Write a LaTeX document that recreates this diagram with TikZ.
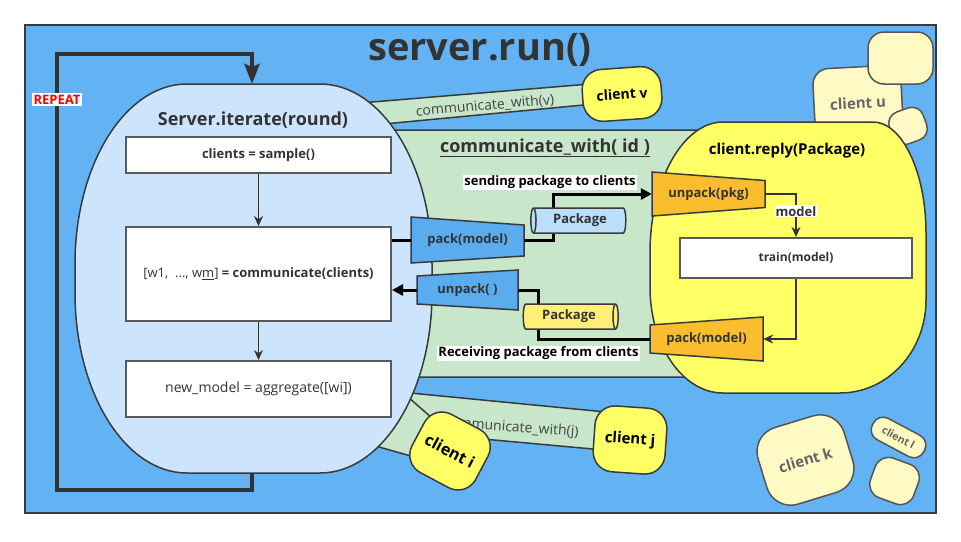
\documentclass[tikz,border=0pt]{standalone}
\usepackage{fontspec}
\setmainfont{Open Sans}
\usetikzlibrary{arrows.meta, positioning, shapes.geometric, calc}

\definecolor{skyfill}{RGB}{99,179,244}
\definecolor{srvfill}{RGB}{204,229,252}
\definecolor{zonefill}{RGB}{200,230,201}
\definecolor{cltfill}{RGB}{255,255,102}
\definecolor{palefill}{RGB}{255,249,196}
\definecolor{orangefill}{RGB}{249,189,45}
\definecolor{packfill}{RGB}{90,172,238}
\definecolor{pkgblue}{RGB}{187,222,251}
\definecolor{pkgyellow}{RGB}{255,238,119}
\definecolor{ink}{RGB}{51,51,51}
\definecolor{bandink}{RGB}{68,68,68}
\definecolor{edge}{RGB}{58,58,58}
\definecolor{boxedge}{RGB}{90,90,90}
\definecolor{ghostedge}{RGB}{85,85,85}
\definecolor{fadedink}{RGB}{102,102,102}

\begin{document}
\begin{tikzpicture}[x=1pt, y=-1pt, >=Stealth,
        step_block/.style={rectangle, draw=boxedge, line width=2pt, fill=white, text=ink, minimum width=265pt, inner sep=0pt, font=\bfseries\fontsize{13}{15}\selectfont},
        tag_block/.style={inner sep=0pt, text=ink, font=\bfseries\fontsize{13}{15}\selectfont},
        note_block/.style={fill=white, text=black, inner sep=1pt, font=\bfseries\fontsize{13}{15}\selectfont},
        pkg_block/.style={cylinder, draw=edge, line width=1.5pt, aspect=0.4, minimum width=25pt, minimum height=95pt, inner sep=0pt, text=ink, font=\bfseries\fontsize{13}{15}\selectfont, cylinder uses custom fill, cylinder body fill=#1, cylinder end fill=#1},
        client_block/.style={rectangle, draw=edge, line width=1.5pt, fill=cltfill, rounded corners=20pt, text=black, font=\bfseries\fontsize{15}{17}\selectfont},
        ghost_block/.style={rectangle, draw=ghostedge, line width=1.5pt, fill=palefill, rounded corners=16pt, text=fadedink, font=\bfseries\fontsize{15}{17}\selectfont},
        band_shape/.style={draw=edge, line width=1.5pt, fill=zonefill},
        funnel_shape/.style={draw=edge, line width=1.5pt, fill=#1},
        band_text/.style={text=bandink, font=\fontsize{14}{16}\selectfont},
        wire/.style={draw=black, line width=3pt},
        wire_tip/.style={-{Triangle[length=11pt, width=11pt]}},
        flow/.style={draw=ink, line width=1.5pt, -{Stealth[length=10pt, width=9pt]}}]

        \useasboundingbox (0,0) rectangle (961,541);

        % Frame and title
        \draw[draw=edge, line width=2pt, fill=skyfill] (25,25) rectangle (936,513);
        \node[text=ink, font=\bfseries\fontsize{38}{40}\selectfont] (title) at (480,50) {server.run()};

        % Green links (behind the server and the clients)
        \draw[band_shape] (360,103) -- (590,84) -- (594,104) -- (384,124) -- cycle;
        \node[band_text, rotate=5] (link_v) at (485,106) {communicate\_with(v)};
        \draw[band_shape] (380,130) -- (712,130) -- (702,377) -- (380,377) -- cycle;
        \draw[band_shape] (400,392) -- (606,412) -- (604,450) -- (450,436) -- cycle;
        \node[band_text, rotate=-4] (link_j) at (511,428) {communicate\_with(j)};
        \draw[band_shape] (400,390) -- (440,425) -- (425,460) -- (372,445) -- cycle;

        % Server
        \draw[draw=edge, line width=1.5pt, fill=srvfill] (187,84) -- (320,84) .. controls (382,84) and (432,165) .. (432,264) -- (432,293) .. controls (432,392) and (382,473) .. (320,473) -- (187,473) .. controls (125,473) and (75,392) .. (75,293) -- (75,264) .. controls (75,165) and (125,84) .. (187,84) -- cycle;
        \coordinate (srv_top) at (252,84);
        \coordinate (srv_bot) at (252,473);
        \node[text=ink, font=\bfseries\fontsize{18}{21}\selectfont] (srv_title) at (253,120) {Server.iterate(round)};
        \node[step_block, minimum height=36pt] (sample) at (258.5,155) {clients = sample()};
        \node[step_block, minimum height=94pt, below=52pt of sample] (comm) {{\mdseries [w1,\ \ ..., w\underline{m}]}\ = communicate(clients)};
        \node[step_block, minimum height=56pt, below=38pt of comm, font=\mdseries\fontsize{14}{16}\selectfont] (aggr) {new\_model = aggregate([wi])};
        \path[flow] (sample.south) -- (comm.north);
        \path[flow] (comm.south) -- (aggr.north);

        % Repeat loop
        \coordinate (loop_low) at (57,490);
        \coordinate (loop_high) at (57,54);
        \draw[draw=ink, line width=4.5pt, -{Stealth[length=20pt, width=15pt, inset=3pt]}] (srv_bot) |- (loop_low) -- (loop_high) -| (srv_top);
        \node[fill=white, text=red, inner sep=1.5pt, font=\bfseries\fontsize{13}{15}\selectfont] (repeat_tag) at (57,99.5) {REPEAT};

        % Client u (behind the client)
        \node[ghost_block, minimum width=88pt, minimum height=72pt, rotate=3] (client_u) at (858,103) {client u};
        \node[ghost_block, minimum width=65pt, minimum height=52pt] (client_u_top) at (900.5,58) {};
        \node[ghost_block, minimum width=36pt, minimum height=34pt, rounded corners=12pt, rotate=20] (client_u_low) at (908,126) {};

        % Client
        \draw[draw=edge, line width=1.5pt, fill=cltfill] (723,122) -- (873,122) .. controls (902,122) and (926,172) .. (926,233) -- (926,300) .. controls (926,351) and (888,393) .. (840,393) -- (723,393) .. controls (683,393) and (650,346) .. (650,287) -- (650,253) .. controls (650,181) and (683,122) .. (723,122) -- cycle;
        \node[text=black, font=\bfseries\fontsize{15}{17}\selectfont] (clt_title) at (787,151) {client.reply(Package)};
        \node[step_block, minimum width=232pt, minimum height=40pt, font=\bfseries\fontsize{12}{14}\selectfont] (train) at (796,258) {train(model)};

        % Pack / unpack blocks
        \coordinate (pack_srv_c) at (467.5,240);
        \draw[funnel_shape=packfill] ($(pack_srv_c)+(-56.5,-23)$) -- ($(pack_srv_c)+(56.5,-15)$) -- ($(pack_srv_c)+(56.5,16)$) -- ($(pack_srv_c)+(-56.5,23)$) -- cycle;
        \node[tag_block, minimum width=113pt, minimum height=46pt] (pack_srv) at (pack_srv_c) {pack(model)};

        \coordinate (unpack_srv_c) at (467.5,290);
        \draw[funnel_shape=packfill] ($(unpack_srv_c)+(-50.5,-14)$) -- ($(unpack_srv_c)+(50.5,-20)$) -- ($(unpack_srv_c)+(50.5,20)$) -- ($(unpack_srv_c)+(-50.5,14)$) -- cycle;
        \node[tag_block, minimum width=101pt, minimum height=28pt] (unpack_srv) at (unpack_srv_c) {unpack( )};

        \coordinate (unpack_clt_c) at (708.5,194);
        \draw[funnel_shape=orangefill] ($(unpack_clt_c)+(-56.5,-22)$) -- ($(unpack_clt_c)+(56.5,-13.5)$) -- ($(unpack_clt_c)+(56.5,13.5)$) -- ($(unpack_clt_c)+(-56.5,22)$) -- cycle;
        \node[tag_block, minimum width=113pt, minimum height=44pt] (unpack_clt) at (unpack_clt_c) {unpack(pkg)};

        \coordinate (pack_clt_c) at (706.5,339);
        \draw[funnel_shape=orangefill] ($(pack_clt_c)+(-56.5,-14)$) -- ($(pack_clt_c)+(56.5,-22)$) -- ($(pack_clt_c)+(56.5,22)$) -- ($(pack_clt_c)+(-56.5,14)$) -- cycle;
        \node[tag_block, minimum width=113pt, minimum height=28pt] (pack_clt) at (pack_clt_c) {pack(model)};

        % Wires between server and client
        \coordinate (send_turn) at (553,194);
        \coordinate (recv_turn) at (538,290);
        \draw[wire] (comm.east |- pack_srv) -- (pack_srv.west);
        \draw[wire, wire_tip] (pack_srv.east) -| (send_turn) -- (unpack_clt.west);
        \draw[wire] (pack_clt.west) -| (recv_turn) -- (unpack_srv.east);
        \draw[wire, wire_tip] (unpack_srv.west) -- (comm.east |- unpack_srv);
        \node[pkg_block=pkgblue, shape border rotate=180] (pkg_out) at (580,220.5) {Package};
        \node[pkg_block=pkgyellow] (pkg_in) at (569,316.5) {Package};
        \node[note_block] (send_note) at (550,182.5) {sending package to clients};
        \node[note_block] (recv_note) at (538.5,353.5) {Receiving package from clients};
        \node[text=ink, font=\bfseries\fontsize{18}{21}\selectfont] (zone_title) at (545,148) {\underline{communicate\_with( id )}};

        % Inside the client
        \path[flow] (unpack_clt.east) -| node[pos=0.7, note_block, text=ink] (model_tag) {model} (train.north);
        \path[flow] (train.south) |- (pack_clt.east);

        % Other clients
        \node[client_block, minimum width=79pt, minimum height=52pt, rotate=4, font=\bfseries\fontsize{14}{16}\selectfont] (client_v) at (622,94) {client v};
        \node[client_block, minimum width=72pt, minimum height=66pt, rotate=-28, font=\bfseries\fontsize{16}{18}\selectfont] (client_i) at (450,451) {client i};
        \node[client_block, minimum width=72pt, minimum height=66pt, rotate=-4] (client_j) at (630,440) {client j};
        \node[ghost_block, minimum width=90pt, minimum height=80pt, rounded corners=25pt, rotate=17] (client_k) at (805.5,460) {client k};
        \node[ghost_block, minimum width=58pt, minimum height=24pt, rounded corners=11pt, rotate=-28, font=\bfseries\fontsize{10.5}{12}\selectfont] (client_l) at (898.5,437.5) {client l};
        \node[ghost_block, minimum width=46pt, minimum height=42pt, rounded corners=14pt, rotate=-20] (client_l_low) at (894.5,481) {};
    \end{tikzpicture}
\end{document}
